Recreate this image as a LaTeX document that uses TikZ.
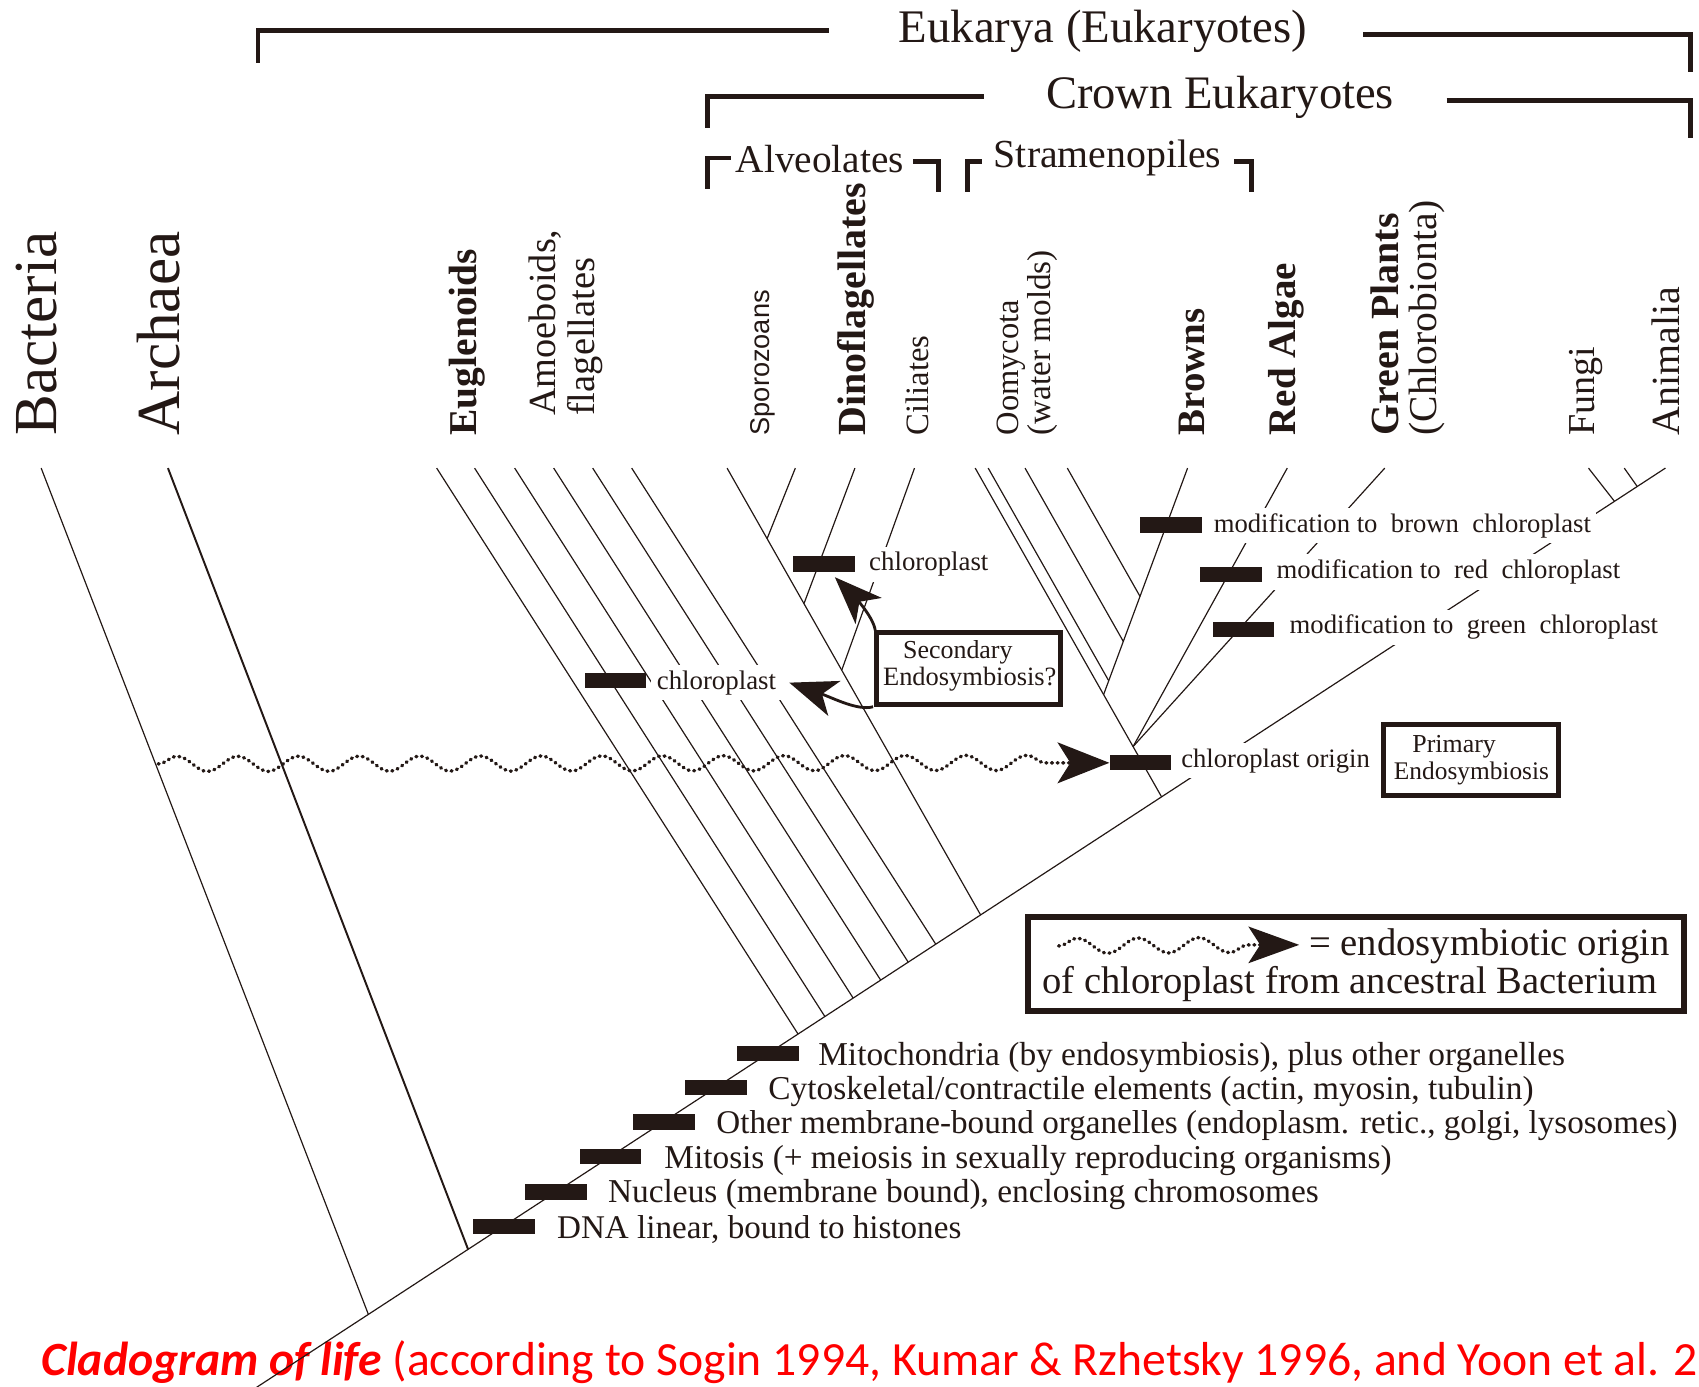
\documentclass[tikz,border=0pt]{standalone}
\usepackage{fontspec}
\setmainfont{Liberation Serif}
\newfontfamily\sansf{Liberation Sans}
\newfontfamily\capf{Carlito}
\usetikzlibrary{arrows.meta,decorations.pathmorphing}
\definecolor{ink}{HTML}{231815}
\definecolor{capred}{HTML}{FF0000}
\newcommand\W[2]{\resizebox{#1pt}{!}{#2}}
\begin{document}
\begin{tikzpicture}[x=1pt,y=-1pt,
  every node/.style={inner sep=0pt,text=ink},
  tree/.style={draw=ink,line width=1.1pt},
  brk/.style={draw=ink,line width=4.2pt},
  bar/.style={fill=ink,minimum width=57pt,minimum height=14pt,inner sep=0pt},
  rot/.style={rotate=90,anchor=west},
  lab/.style={anchor=west,fill=white,inner sep=5pt},
  ebox/.style={draw=ink,fill=white,line width=4.5pt},
  wavy/.style={draw=ink,line width=3.2pt,line cap=round,dash pattern=on 0.8pt off 4.4pt,decorate,decoration={snake,amplitude=7pt,segment length=56pt,post length=6pt}},
  sarrow/.style={draw=ink,line width=2.6pt,-{Stealth[length=44pt,width=34pt,inset=12pt]}},
]
\useasboundingbox (0,0) rectangle (1568,1280);
\clip (0,0) rectangle (1568,1280);

% caption
\node[anchor=base west,text=capred,font=\capf\fontsize{44}{50}\selectfont] (cap) at (38,1269) {\textbf{\textit{Cladogram of life}} (according to Sogin 1994, Kumar \& Rzhetsky 1996, and Yoon et al. 2};

% brackets
\draw[brk] (238,58) -- (238,28) -- (765,28);
\node (nEuk) at (1018,29) {\W{377}{Eukarya (Eukaryotes)}};
\draw[brk] (1258,32) -- (1560,32) -- (1560,66);
\draw[brk] (653,118) -- (653,89) -- (908,89);
\node (nCrown) at (1126,90) {\W{321}{Crown Eukaryotes}};
\draw[brk] (1335,93) -- (1560,93) -- (1560,127);
\draw[brk] (653,174) -- (653,146) -- (675,146);
\node[anchor=west] (nAlv) at (679,147) {\W{155}{Alveolates}};
\draw[brk] (843,149) -- (866,149) -- (866,177);
\draw[brk] (893,177) -- (893,149) -- (906,149);
\node[anchor=west] (nStr) at (917,146) {\W{210}{Stramenopiles}};
\draw[brk] (1139,149) -- (1155,149) -- (1155,177);

% taxon labels
\node[rot] (nBac) at (34,402) {\W{188}{Bacteria}};
\node[rot] (nArc) at (146,402) {\W{188}{Archaea}};
\node[rot] (nEug) at (431,402) {\W{172}{\bfseries Euglenoids}};
\node[rot] (nAm1) at (503,384) {\W{172}{Amoeboids,}};
\node[rot] (nAm2) at (540,384) {\W{146}{flagellates}};
\node[rot] (nSpo) at (704,402) {\W{134}{\sansf Sporozoans}};
\node[rot] (nDin) at (790,402) {\W{233}{\bfseries Dinoflagellates}};
\node[rot] (nCil) at (847,402) {\W{92}{Ciliates}};
\node[rot] (nOom) at (933,402) {\W{125}{Oomycota}};
\node[rot] (nWat) at (962,402) {\W{171}{(water molds)}};
\node[rot] (nBro) at (1100,402) {\W{117}{\bfseries Browns}};
\node[rot] (nRed) at (1187,402) {\W{159}{\bfseries Red Algae}};
\node[rot] (nGre) at (1278,402) {\W{205}{\bfseries Green Plants}};
\node[rot] (nChl) at (1317,402) {\W{217}{(Chlorobionta)}};
\node[rot] (nFun) at (1464,402) {\W{82}{Fungi}};
\node[rot] (nAni) at (1537,402) {\W{137}{Animalia}};

% tree
\coordinate (root) at (222,1290);
\coordinate (top) at (1537,432);
\draw[tree] (root) -- (top);
\coordinate (tB) at (38,432); \coordinate (jB) at (340,1213.1);
\draw[tree] (tB) -- (jB);
\coordinate (tA) at (155,432); \coordinate (jA) at (432,1153);
\draw[tree,line width=1.8pt] (tA) -- (jA);
\foreach \n/\a/\b/\c in {1/403/736.5/954.3, 2/438/761.3/938.2, 3/475/787.4/921.2, 4/511/812.8/904.6, 5/547/838.2/888.0, 6/583/863.6/871.4}{
  \coordinate (p\n) at (\a,432); \coordinate (q\n) at (\b,\c);
  \draw[tree] (p\n) -- (q\n);
}
\coordinate (al) at (671,432); \coordinate (alE) at (905,844.4);
\draw[tree] (al) -- (alE);
\coordinate (ts) at (734,432); \coordinate (js) at (708,497); \draw[tree] (ts) -- (js);
\coordinate (td) at (789,432); \coordinate (jd) at (742,557); \draw[tree] (td) -- (jd);
\coordinate (tc) at (844,432); \coordinate (jc) at (777,618); \draw[tree] (tc) -- (jc);
\coordinate (cr) at (900,432); \coordinate (crE) at (1072,735.4);
\draw[tree] (cr) -- (crE);
\coordinate (J) at (1045.7,689); \coordinate (jb) at (1018.5,641);
\coordinate (tbr) at (1096,432); \draw[tree] (tbr) -- (jb);
\coordinate (s1) at (985,432); \coordinate (k1) at (1052.1,550.4); \draw[tree] (s1) -- (k1);
\coordinate (s2) at (946,432); \coordinate (k2) at (1036.7,592.0); \draw[tree] (s2) -- (k2);
\coordinate (s3) at (912,432); \coordinate (k3) at (1023.2,628.2); \draw[tree] (s3) -- (k3);
\coordinate (tr) at (1188,432); \draw[tree] (tr) -- (J);
\coordinate (tg) at (1278,432); \draw[tree] (tg) -- (J);
\coordinate (tf) at (1466,432); \coordinate (jf) at (1490,462.7); \draw[tree] (tf) -- (jf);
\coordinate (tx) at (1499,432); \coordinate (jx) at (1511,449.0); \draw[tree] (tx) -- (jx);

% wavy endosymbiosis arrow
\coordinate (wS) at (146,705);
\node[bar] (bOrig) at (1052.5,704) {};
\coordinate (wE) at (988,704);
\draw[wavy] (wS) -- (wE);
\fill[ink] (bOrig.west) -- ++(-48,-19) -- ++(12,19) -- ++(-12,19) -- cycle;

% labels with white backing
\node[lab] (lDino) at (797,521) {\W{110}{chloroplast}};
\node[lab] (lEug) at (601,630) {\W{110}{chloroplast}};
\node[lab] (lOrig) at (1085,702) {\W{174}{chloroplast origin}};
\node[lab] (lBr) at (1115,485) {\W{348}{modification to\ \ brown\ \ chloroplast}};
\node[lab] (lRed) at (1173,528) {\W{317}{modification to\ \ red\ \ chloroplast}};
\node[lab] (lGr) at (1185,579) {\W{340}{modification to\ \ green\ \ chloroplast}};

% bars
\node[bar] (bDino) at (760.5,520.5) {};
\node[bar] (bEug) at (568,628) {};
\node[bar] (bBr) at (1081,484.5) {};
\node[bar] (bRed) at (1136,530.5) {};
\node[bar] (bGr) at (1147.5,581) {};
\node[bar] (m1b) at (708.5,972.5) {};
\node[bar] (m2b) at (661,1004) {};
\node[bar] (m3b) at (613,1035.5) {};
\node[bar] (m4b) at (563.5,1067) {};
\node[bar] (m5b) at (513,1100) {};
\node[bar] (m6b) at (465,1132) {};

% bottom list
\node[anchor=base west] (m1) at (755,983) {\W{689}{Mitochondria (by endosymbiosis), plus other organelles}};
\node[anchor=base west] (m2) at (709,1015) {\W{706}{Cytoskeletal/contractile elements (actin, myosin, tubulin)}};
\node[anchor=base west] (m3) at (661,1046) {\W{887}{Other membrane-bound organelles (endoplasm. retic., golgi, lysosomes)}};
\node[anchor=base west] (m4) at (613,1078) {\W{671}{Mitosis (+ meiosis in sexually reproducing organisms)}};
\node[anchor=base west] (m5) at (561,1110) {\W{656}{Nucleus (membrane bound), enclosing chromosomes}};
\node[anchor=base west] (m6) at (514,1143) {\W{373}{DNA linear, bound to histones}};

% secondary endosymbiosis
\node[ebox,minimum width=170pt,minimum height=66pt] (sec) at (894,617) {};
\node (sec1) at (884,602) {\W{101}{Secondary}};
\node (sec2) at (895,627) {\W{160}{Endosymbiosis?}};
\draw[sarrow] ([xshift=1pt]sec.north west) .. controls +(-2,-14) and +(14,14) .. ([shift={(10,5)}]bDino.south);
\draw[sarrow] ([xshift=-1pt]sec.south west) .. controls +(-14,4) and +(40,14) .. ([xshift=7pt]lEug.east);

% primary endosymbiosis
\node[ebox,minimum width=161pt,minimum height=65pt] (prim) at (1357.5,701.5) {};
\node (pr1) at (1342,689) {\W{77}{Primary}};
\node (pr2) at (1358,714) {\W{143}{Endosymbiosis}};

% legend
\node[ebox,line width=5.5pt,minimum width=605pt,minimum height=87pt] (leg) at (1251.5,889.5) {};
\coordinate (lgS) at (977,873); \coordinate (lgE) at (1163,872);
\draw[wavy] (lgS) -- (lgE);
\coordinate (lgT) at (1199,872);
\fill[ink] (lgT) -- ++(-47,-17) -- ++(11,17) -- ++(-11,17) -- cycle;
\node[anchor=west] (lg1) at (1208,873) {\W{333}{= endosymbiotic origin}};
\node[anchor=west] (lg2) at (962,908) {\W{567}{of chloroplast from ancestral Bacterium}};
\end{tikzpicture}
\end{document}
